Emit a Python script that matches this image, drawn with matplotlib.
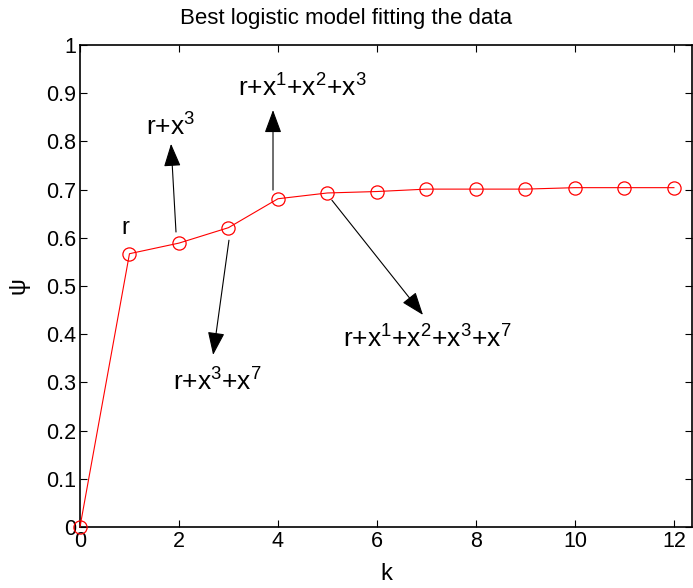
import matplotlib.pyplot as plt

plt.rcParams['font.family'] = ['Liberation Sans', 'DejaVu Sans']
plt.rcParams['mathtext.fontset'] = 'custom'
plt.rcParams['mathtext.rm'] = 'Liberation Sans'
plt.rcParams['mathtext.it'] = 'Liberation Sans'

# model size k vs fit quality psi
k = [0, 1, 2, 3, 4, 5, 6, 7, 8, 9, 10, 11, 12]
psi = [0.0, 0.567, 0.589, 0.621, 0.681, 0.693, 0.696, 0.701, 0.701, 0.701, 0.704, 0.704, 0.704]

# annotation labels: (text, text pos, arrow tail, arrow head)
labels = ['r+x$^3$', 'r+x$^3$+x$^7$', 'r+x$^1$+x$^2$+x$^3$', 'r+x$^1$+x$^2$+x$^3$+x$^7$']
label_pos = [(1.84, 0.83), (2.77, 0.30), (4.50, 0.91), (7.02, 0.39)]
arrow_tail = [(1.94, 0.612), (3.01, 0.595), (3.90, 0.699), (5.09, 0.678)]
arrow_head = [(1.84, 0.795), (2.69, 0.357), (3.90, 0.865), (6.93, 0.44)]

fig = plt.figure(figsize=(6.93, 5.88), dpi=100)
ax = fig.add_axes([0.1154, 0.1037, 0.8835, 0.8198])

ax.plot(k, psi, '-o', color='red', lw=0.8, markersize=9.5,
        markerfacecolor='none', markeredgewidth=0.9, clip_on=False, zorder=3)

ax.text(0.91, 0.62, 'r', fontsize=17, ha='center', va='center')
for txt, pos, tail, head in zip(labels, label_pos, arrow_tail, arrow_head):
    ax.annotate('', xy=head, xytext=tail,
                arrowprops=dict(arrowstyle='-|>,head_length=0.65,head_width=0.24',
                                color='k', lw=0.8, mutation_scale=22,
                                shrinkA=0, shrinkB=0))
    ax.text(pos[0], pos[1], txt, fontsize=19, ha='center', va='center')

ax.set_xlim(0, 12.37)
ax.set_ylim(0, 1)
ax.set_xticks(range(0, 13, 2))
ax.set_yticks([i / 10 for i in range(11)])
ax.set_yticklabels(['0', '0.1', '0.2', '0.3', '0.4', '0.5', '0.6', '0.7', '0.8', '0.9', '1'])
ax.tick_params(direction='in', length=5, width=0.8, top=True, right=True,
               labelsize=15.5, pad=3)
for s in ax.spines.values():
    s.set_linewidth(1.2)

ax.set_title('Best logistic model fitting the data', fontsize=16, pad=15, x=0.435)
ax.set_xlabel('k', fontsize=17, labelpad=8)
ax.set_ylabel('ψ', fontsize=17, labelpad=12)

fig.savefig('out.png', dpi=100)
